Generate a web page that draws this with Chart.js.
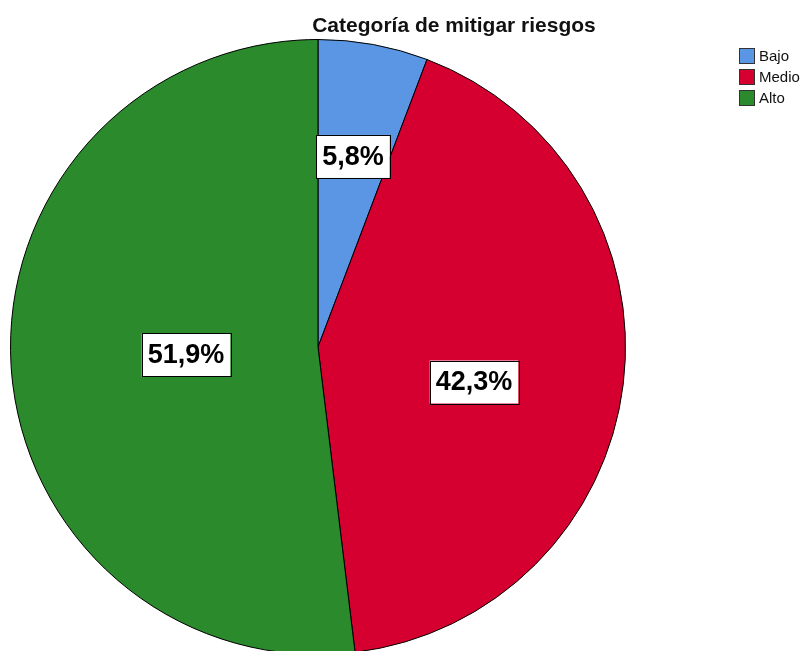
<!DOCTYPE html>
<html>
<head>
<meta charset="utf-8">
<script src="https://cdn.jsdelivr.net/npm/chart.js@4.4.0/dist/chart.umd.min.js"></script>
<style>
  body { margin: 0; background: #fff; overflow: hidden; }
  #wrap { width: 810px; height: 660px; }
</style>
</head>
<body>
<div id="wrap"><canvas id="chartContainer" width="810" height="660"></canvas></div>
<script>
// data (counts give 5,8 / 42,3 / 51,9 %)
const categories = ['Bajo', 'Medio', 'Alto'];
const counts = [3, 22, 27];
const colors = ['#5a96e4', '#d5002f', '#2a8a2c'];
const chartTitle = 'Categoría de mitigar riesgos';

// where each % label sits, as share of the radius (SPSS puts them unevenly)
const labelRadius = [0.63, 0.52, 0.43];
const labelShift = [0, 0.1, 0];

const total = counts.reduce((a, b) => a + b, 0);

// boxed percentage labels
const boxLabels = {
  id: 'boxLabels',
  afterDatasetsDraw(chart) {
    const ctx = chart.ctx;
    const meta = chart.getDatasetMeta(0);
    ctx.save();
    ctx.font = 'bold 27px "Liberation Sans", Arial, sans-serif';
    ctx.textAlign = 'center';
    ctx.textBaseline = 'middle';
    meta.data.forEach((arc, i) => {
      const mid = (arc.startAngle + arc.endAngle) / 2 + labelShift[i];
      const r = arc.outerRadius * labelRadius[i];
      const x = arc.x + Math.cos(mid) * r;
      const y = arc.y + Math.sin(mid) * r;
      const txt = (counts[i] / total * 100).toFixed(1).replace('.', ',') + '%';
      const w = ctx.measureText(txt).width + 12;
      const h = 43;
      ctx.fillStyle = '#fff';
      ctx.fillRect(x - w / 2, y - h / 2, w, h);
      ctx.strokeStyle = '#000';
      ctx.lineWidth = 1;
      ctx.strokeRect(Math.round(x - w / 2) + 0.5, Math.round(y - h / 2) + 0.5, Math.round(w), h);
      ctx.fillStyle = '#000';
      ctx.fillText(txt, x, y + 1);
    });
    ctx.restore();
  }
};

// title and legend placed like the SPSS output
const sideBits = {
  id: 'sideBits',
  afterDraw(chart) {
    const ctx = chart.ctx;
    ctx.save();
    ctx.fillStyle = '#111';
    ctx.font = 'bold 21px "Liberation Sans", Arial, sans-serif';
    ctx.textAlign = 'center';
    ctx.textBaseline = 'middle';
    ctx.fillText(chartTitle, 454, 26);

    ctx.font = '15px "Liberation Sans", Arial, sans-serif';
    ctx.textAlign = 'left';
    chart.data.labels.forEach((lab, i) => {
      const y = 48 + i * 21;
      ctx.fillStyle = chart.data.datasets[0].backgroundColor[i];
      ctx.fillRect(739, y, 16, 16);
      ctx.strokeStyle = '#333';
      ctx.lineWidth = 1;
      ctx.strokeRect(739.5, y + 0.5, 15, 15);
      ctx.fillStyle = '#111';
      ctx.fillText(lab, 759, y + 9);
    });
    ctx.restore();
  }
};

let chart = new Chart(document.getElementById('chartContainer').getContext('2d'), {
  type: 'pie',
  data: {
    labels: categories,
    datasets: [{
      data: counts,
      backgroundColor: colors,
      borderColor: '#000',
      borderWidth: 1
    }]
  },
  options: {
    responsive: false,
    animation: false,
    layout: { padding: { left: 10, right: 184, top: 39, bottom: 5 } },
    plugins: {
      legend: { display: false },
      tooltip: { enabled: false }
    }
  },
  plugins: [boxLabels, sideBits]
});
</script>
</body>
</html>
